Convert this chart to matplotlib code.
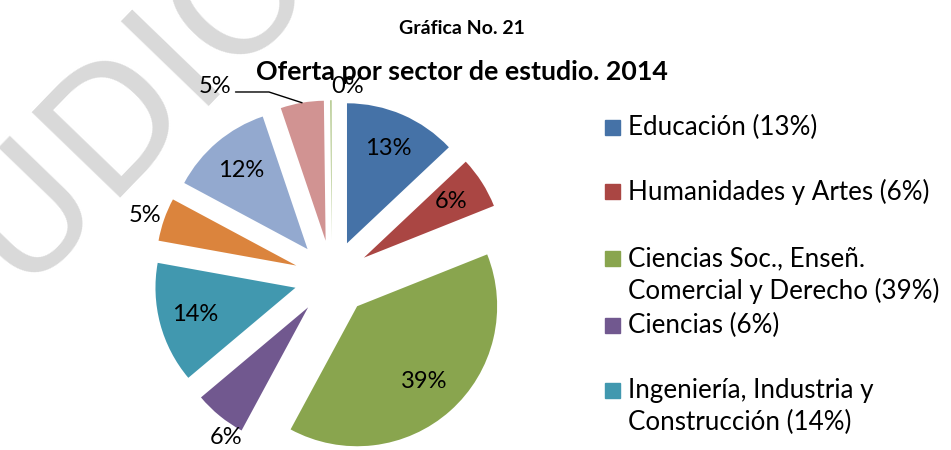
import matplotlib
matplotlib.use("Agg")
import matplotlib.pyplot as plt
import numpy as np
from matplotlib.patches import Rectangle

# Oferta por sector de estudio, 2014 (porcentajes)
sectores = [
    "Educación",
    "Humanidades y Artes",
    "Ciencias Soc., Enseñ.\nComercial y Derecho",
    "Ciencias",
    "Ingeniería, Industria y\nConstrucción",
    "Agricultura",
    "Salud y Servicios Sociales",
    "Servicios",
    "Sectores desconocidos",
]
porcentajes = [13, 6, 39, 6, 14, 5, 12, 5, 0.2]
etiquetas = ["13%", "6%", "39%", "6%", "14%", "5%", "12%", "5%", "0%"]
colores = ["#4572A7", "#AA4643", "#89A54E", "#71588F", "#4198AF",
           "#DB843D", "#93A9CF", "#D19392", "#B9CD96"]
n_leyenda = 5  # only the first five fit in the legend

font = "Lato"
W, H = 951, 450
fig = plt.figure(figsize=(W / 100, H / 100), dpi=100)

# watermark behind everything (split at the D so it can be anchored there)
marca = dict(rotation=46, rotation_mode="anchor", va="baseline", fontsize=120,
             color="#d9d9d9", family="DejaVu Sans", zorder=0)
fig.text(104 / W, 1 - 198 / H, "DIO", ha="left", **marca)
fig.text(104 / W, 1 - 198 / H, "ESTU", ha="right", **marca)

# pie axes: centre at (332, 278) px, radius 140 px
rad = 140
half = 200
ax = fig.add_axes([(332 - half) / W, (H - 278 - half) / H, 2 * half / W, 2 * half / H])
ax.set_zorder(1)
wedges, _ = ax.pie(porcentajes, colors=colores, startangle=90, counterclock=False,
                   explode=[0.27] * len(porcentajes), radius=1,
                   wedgeprops=dict(linewidth=0))
ax.set_xlim(-half / rad, half / rad)
ax.set_ylim(-half / rad, half / rad)
ax.set_aspect("equal")
ax.axis("off")

# label placement: distance from wedge apex (in radii), turn (deg) and alignment
dist = [0.74, 0.74, 0.72, 1.1, 0.74, 1.14, 0.74, None, 1.1]
giro = [0, 0, 0, 7, 0, 1, 0, 0, 0]
ha = ["center"] * 8 + ["left"]
for w, lab, d, g, h in zip(wedges, etiquetas, dist, giro, ha):
    ang = np.deg2rad((w.theta1 + w.theta2) / 2 + g)
    cx, cy = w.center
    if d is None:
        # label with leader line
        px, py = cx + np.cos(ang), cy + np.sin(ang)
        ax.annotate(lab, xy=(px, py), xytext=(-87, 16), textcoords="offset pixels",
                    ha="center", va="center", fontsize=17, family=font,
                    arrowprops=dict(arrowstyle="-", color="black", lw=1,
                                    relpos=(1, 0.25), shrinkA=1, shrinkB=0,
                                    connectionstyle="angle,angleA=0,angleB=-18,rad=0"))
        continue
    ax.text(cx + d * np.cos(ang), cy + d * np.sin(ang), lab, ha=h, va="center",
            fontsize=17, family=font)

# titles
fig.text(462 / W, 1 - 29 / H, "Gráfica No. 21", ha="center", va="center",
         fontsize=14, weight="bold", family=font)
fig.text(462 / W, 1 - 72 / H, "Oferta por sector de estudio. 2014", ha="center",
         va="center", fontsize=19.3, weight="bold", family=font)

# legend drawn by hand (Excel-style spacing)
fila_y = [127, 191, 258, 325, 390]
for i in range(n_leyenda):
    y = fila_y[i]
    fig.patches.append(Rectangle((605 / W, 1 - (y + 8) / H), 15 / W, 15 / H,
                                 transform=fig.transFigure, color=colores[i]))
    texto = sectores[i] + " (" + etiquetas[i] + ")"
    fig.text(628 / W, 1 - (y - 12) / H, texto, ha="left", va="top",
             fontsize=18.7, family=font, linespacing=1.35)

fig.savefig("out.png", dpi=100)
